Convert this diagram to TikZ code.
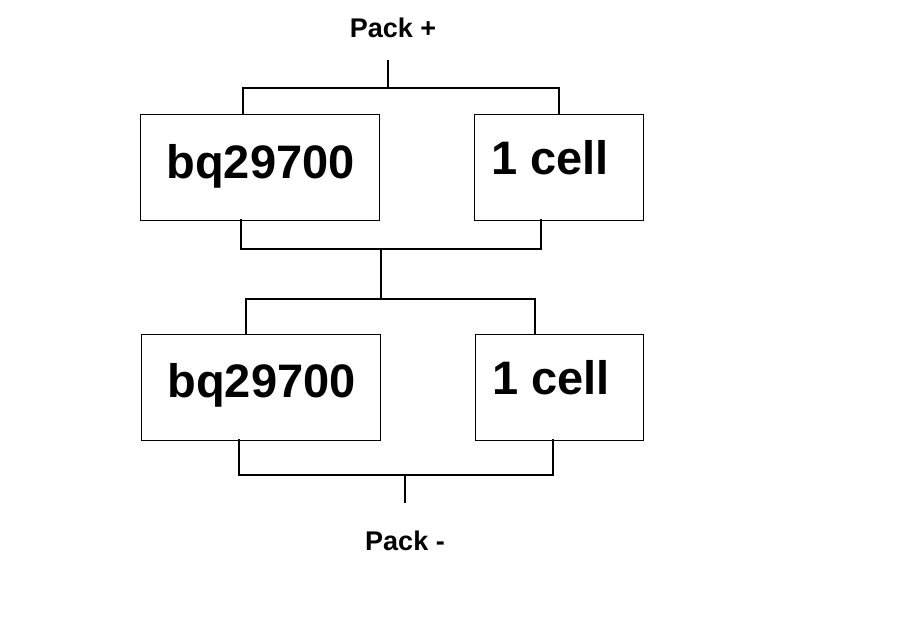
\documentclass[tikz,border=0pt]{standalone}
\usepackage{fontspec}
\setmainfont{Liberation Sans}
\usetikzlibrary{positioning}

\tikzset{
  unitbox/.style={draw, line width=1pt, inner sep=0pt},
  wire/.style={line width=2pt, line cap=rect},
  bigtxt/.style={anchor=base, inner sep=0pt, font=\bfseries\fontsize{47}{56}\selectfont},
  packtxt/.style={anchor=base, inner sep=0pt, font=\bfseries\fontsize{27}{32}\selectfont}
}

\begin{document}
\begin{tikzpicture}[x=1pt,y=-1pt]
  \useasboundingbox (0,0) rectangle (916,638);

  %% Upper pair
  \node[unitbox, minimum width=239pt, minimum height=106pt] (chipA) at (259.5,167) {};
  \node[unitbox, minimum width=169pt, minimum height=106pt] (cellA) at (558.5,167) {};
  \node[bigtxt] (chipAtxt) at (260.5,178) {bq29700};
  \node[bigtxt] (cellAtxt) at (550,174) {1 cell};

  %% Lower pair
  \node[unitbox, minimum width=239pt, minimum height=106pt] (chipB) at (260.5,387) {};
  \node[unitbox, minimum width=168pt, minimum height=106pt] (cellB) at (559,387) {};
  \node[bigtxt] (chipBtxt) at (261.5,397) {bq29700};
  \node[bigtxt] (cellBtxt) at (551,394) {1 cell};

  %% Terminals
  \node[packtxt] (packp) at (393,37) {Pack +};
  \node[packtxt] (packm) at (405,550) {Pack -};

  %% Connection points
  \coordinate (pp) at (388,61);
  \coordinate (jp) at (388,88);
  \coordinate (chipAin) at (243,114);
  \coordinate (cellAin) at (559,114);
  \coordinate (chipAout) at (241,220);
  \coordinate (cellAout) at (541,220);
  \coordinate (jm1) at (381,249);
  \coordinate (jm2) at (381,299);
  \coordinate (chipBin) at (246,334);
  \coordinate (cellBin) at (535,334);
  \coordinate (chipBout) at (239,440);
  \coordinate (cellBout) at (553,440);
  \coordinate (jn) at (405,475);
  \coordinate (pn) at (405,502);

  %% Wires
  \draw[wire] (pp) -- (jp);
  \draw[wire] (chipAin) |- (jp) -| (cellAin);
  \draw[wire] (chipAout) |- (jm1) -| (cellAout);
  \draw[wire] (jm1) -- (jm2);
  \draw[wire] (chipBin) |- (jm2) -| (cellBin);
  \draw[wire] (chipBout) |- (jn) -| (cellBout);
  \draw[wire] (jn) -- (pn);

\end{tikzpicture}
\end{document}
